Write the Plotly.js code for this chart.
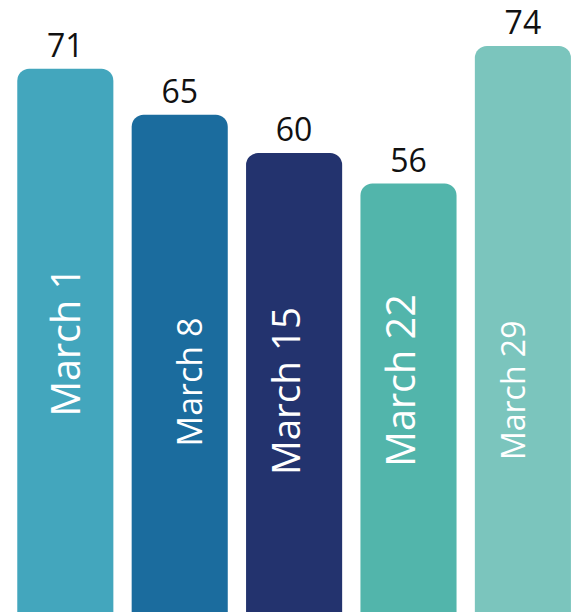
<!DOCTYPE html>
<html>
<head>
<meta charset="utf-8">
<script src="https://cdn.plot.ly/plotly-3.0.1.min.js"></script>
<style>html,body{margin:0;padding:0;background:#fff;}#chart{width:577px;height:612px;}</style>
</head>
<body>
<div id="chart"></div>
<script>
// Data
var categories = ["March 1", "March 8", "March 15", "March 22", "March 29"];
var values = [71, 65, 60, 56, 74];

// Styles
var barColors = ["#43A6BD", "#1B6C9E", "#23336E", "#52B5AB", "#7BC5BD"];
var labelSizes = [39.5, 34, 38.6, 39.6, 32];
var labelShiftX = [0, 9, -9, -8, -11];
var labelCenterY = [35.4, 30.1, 28.9, 30.3, 29.0];
var FONT = "'Open Sans', 'Noto Sans', sans-serif";

var idx = categories.map(function (_, i) { return i; });

var trace = {
  type: "bar",
  x: idx,
  y: values,
  width: 0.84,
  marker: { color: barColors, line: { width: 0 } },
  text: values.map(String),
  textposition: "outside",
  textangle: 0,
  textfont: { family: FONT, size: 32, color: "#111111" },
  cliponaxis: false,
  hoverinfo: "skip"
};

var annotations = categories.map(function (c, i) {
  return {
    x: idx[i], y: labelCenterY[i], xref: "x", yref: "y",
    text: c, showarrow: false, textangle: -90,
    xanchor: "center", yanchor: "middle",
    xshift: labelShiftX[i],
    font: { family: FONT, size: labelSizes[i], color: "#ffffff" }
  };
});

var layout = {
  width: 577, height: 612,
  margin: { l: 0, r: 0, t: 0, b: 0, pad: 0 },
  paper_bgcolor: "#ffffff", plot_bgcolor: "#ffffff",
  showlegend: false,
  barcornerradius: 12,
  xaxis: { range: [-0.571, 4.473], visible: false, fixedrange: true },
  yaxis: { range: [0, 80], visible: false, fixedrange: true },
  annotations: annotations
};

Plotly.newPlot("chart", [trace], layout, { staticPlot: true, displayModeBar: false });
</script>
</body>
</html>
